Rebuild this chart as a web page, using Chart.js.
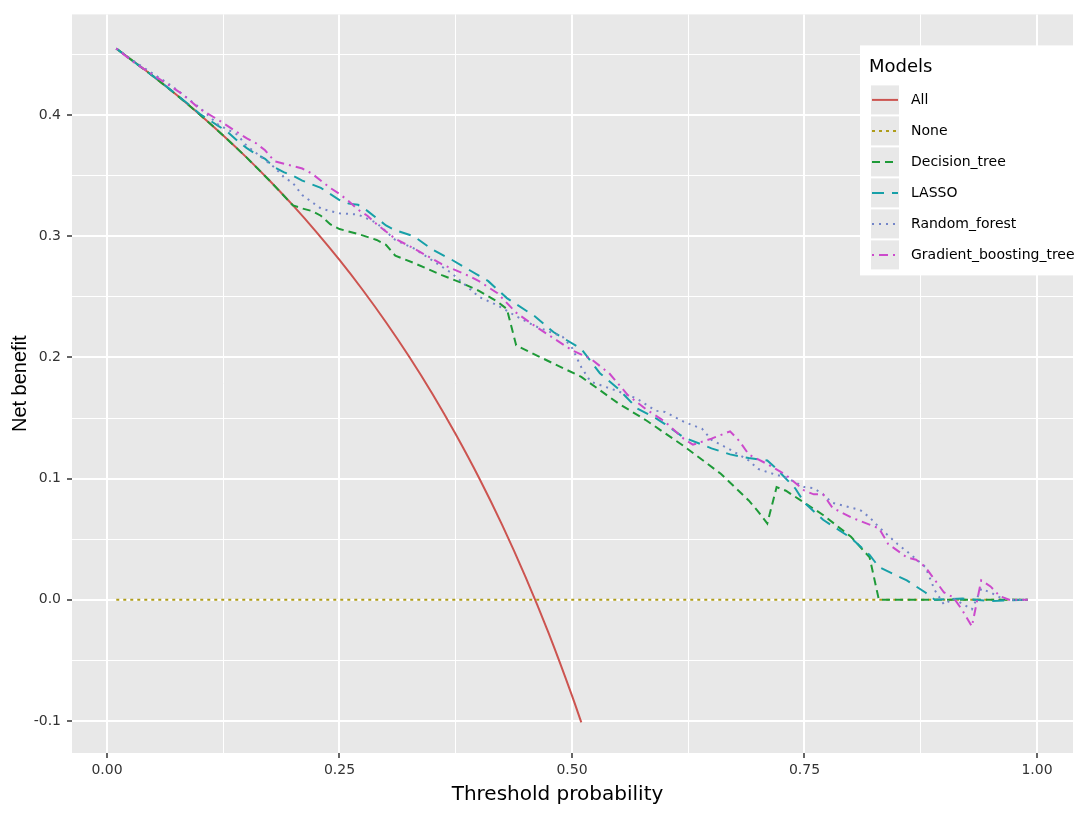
<!DOCTYPE html>
<html>
<head>
<meta charset="utf-8">
<title>Decision curves</title>
<script src="https://cdn.jsdelivr.net/npm/chart.js@4.4.1/dist/chart.umd.min.js"></script>
<style>
  html, body { margin: 0; padding: 0; background: #fff; }
  #chart { display: block; }
</style>
</head>
<body>
<canvas id="chart" width="1084" height="814"></canvas>
<script>
// [threshold probability, net benefit] pairs
const ALL = [[0.01, 0.455], [0.05, 0.432], [0.075, 0.4167], [0.10, 0.4004], [0.125, 0.3833], [0.15, 0.3652],
    [0.175, 0.3459], [0.20, 0.3255], [0.225, 0.3037], [0.25, 0.2805], [0.275, 0.2557], [0.30, 0.2291],
    [0.325, 0.2006], [0.35, 0.1699], [0.375, 0.1366], [0.40, 0.1007], [0.425, 0.0616], [0.45, 0.0189],
    [0.475, -0.0278], [0.50, -0.0792], [0.51, -0.1012]];

const NONE = [[0.01, 0], [0.99, 0]];

const DECISION_TREE = [[0.01, 0.455], [0.05, 0.432], [0.075, 0.4167], [0.10, 0.4004], [0.125, 0.3833],
    [0.15, 0.3652], [0.175, 0.3459], [0.20, 0.3255], [0.21, 0.323], [0.22, 0.321], [0.23, 0.317], [0.24, 0.310],
    [0.25, 0.306], [0.27, 0.302], [0.29, 0.297], [0.30, 0.293], [0.31, 0.284], [0.33, 0.278], [0.36, 0.268],
    [0.38, 0.262], [0.40, 0.255], [0.42, 0.246], [0.43, 0.240], [0.44, 0.210], [0.48, 0.195], [0.51, 0.184],
    [0.53, 0.173], [0.55, 0.162], [0.58, 0.148], [0.62, 0.127], [0.66, 0.104], [0.69, 0.082], [0.70, 0.073],
    [0.71, 0.063], [0.72, 0.093], [0.73, 0.090], [0.77, 0.070], [0.80, 0.052], [0.82, 0.035], [0.83, 0],
    [0.99, 0]];

const LASSO = [[0.01, 0.455], [0.05, 0.432], [0.075, 0.417], [0.10, 0.401], [0.12, 0.391], [0.13, 0.386],
    [0.14, 0.379], [0.15, 0.373], [0.16, 0.368], [0.17, 0.364], [0.18, 0.357], [0.19, 0.353], [0.20, 0.350],
    [0.21, 0.346], [0.23, 0.340], [0.25, 0.330], [0.26, 0.327], [0.27, 0.326], [0.28, 0.321], [0.29, 0.315],
    [0.30, 0.309], [0.31, 0.305], [0.33, 0.300], [0.35, 0.289], [0.37, 0.281], [0.39, 0.272], [0.41, 0.263],
    [0.43, 0.249], [0.46, 0.234], [0.48, 0.221], [0.51, 0.207], [0.53, 0.187], [0.55, 0.174], [0.57, 0.158],
    [0.59, 0.150], [0.60, 0.145], [0.62, 0.134], [0.64, 0.128], [0.65, 0.125], [0.67, 0.120], [0.69, 0.117],
    [0.71, 0.115], [0.72, 0.108], [0.74, 0.092], [0.75, 0.080], [0.77, 0.066], [0.80, 0.051], [0.82, 0.037],
    [0.83, 0.027], [0.86, 0.016], [0.88, 0.006], [0.89, 0], [0.92, 0.001], [0.95, -0.001], [0.99, 0]];

const RANDOM_FOREST = [[0.01, 0.455], [0.03, 0.444], [0.05, 0.434], [0.07, 0.424], [0.10, 0.406], [0.11, 0.399],
    [0.12, 0.392], [0.14, 0.384], [0.15, 0.375], [0.16, 0.369], [0.18, 0.357], [0.19, 0.349], [0.20, 0.344],
    [0.21, 0.334], [0.23, 0.323], [0.25, 0.319], [0.27, 0.318], [0.29, 0.311], [0.31, 0.297], [0.33, 0.290],
    [0.34, 0.285], [0.37, 0.270], [0.40, 0.250], [0.42, 0.243], [0.44, 0.234], [0.46, 0.226], [0.49, 0.217],
    [0.50, 0.208], [0.51, 0.192], [0.52, 0.180], [0.55, 0.172], [0.57, 0.166], [0.59, 0.156], [0.60, 0.155],
    [0.62, 0.147], [0.64, 0.141], [0.65, 0.132], [0.67, 0.124], [0.69, 0.115], [0.70, 0.108], [0.72, 0.103],
    [0.73, 0.101], [0.75, 0.093], [0.76, 0.092], [0.77, 0.087], [0.78, 0.080], [0.81, 0.074], [0.82, 0.068],
    [0.83, 0.060], [0.85, 0.046], [0.86, 0.040], [0.88, 0.027], [0.89, 0.008], [0.90, -0.004], [0.91, 0.001],
    [0.93, -0.008], [0.94, 0.009], [0.95, 0.006], [0.96, 0.002], [0.97, 0], [0.99, 0]];

const GRADIENT_BOOSTING = [[0.01, 0.455], [0.03, 0.443], [0.05, 0.433], [0.08, 0.418], [0.10, 0.405],
    [0.12, 0.396], [0.13, 0.391], [0.15, 0.381], [0.16, 0.377], [0.17, 0.371], [0.18, 0.362], [0.20, 0.358],
    [0.21, 0.356], [0.22, 0.352], [0.24, 0.340], [0.25, 0.335], [0.26, 0.329], [0.27, 0.322], [0.28, 0.317],
    [0.29, 0.310], [0.30, 0.304], [0.31, 0.298], [0.33, 0.290], [0.36, 0.277], [0.39, 0.267], [0.40, 0.263],
    [0.42, 0.253], [0.44, 0.237], [0.46, 0.226], [0.48, 0.216], [0.50, 0.206], [0.52, 0.199], [0.54, 0.187],
    [0.56, 0.169], [0.58, 0.157], [0.60, 0.147], [0.62, 0.133], [0.63, 0.128], [0.65, 0.133], [0.67, 0.139],
    [0.68, 0.131], [0.69, 0.120], [0.71, 0.112], [0.73, 0.103], [0.75, 0.090], [0.76, 0.087], [0.77, 0.087],
    [0.78, 0.076], [0.80, 0.068], [0.81, 0.065], [0.83, 0.059], [0.84, 0.046], [0.86, 0.035], [0.87, 0.033],
    [0.88, 0.027], [0.90, 0.006], [0.91, 0.002], [0.92, -0.009], [0.93, -0.022], [0.94, 0.016], [0.95, 0.011],
    [0.96, 0.003], [0.97, 0], [0.99, 0]];

const SERIES_NAMES = ['All', 'None', 'Decision_tree', 'LASSO', 'Random_forest', 'Gradient_boosting_tree'];
const SERIES_DATA = [ALL, NONE, DECISION_TREE, LASSO, RANDOM_FOREST, GRADIENT_BOOSTING];

const X_TICKS = [0, 0.25, 0.5, 0.75, 1];
const X_TICK_LABELS = ['0.00', '0.25', '0.50', '0.75', '1.00'];
const X_MINOR = [0.125, 0.375, 0.625, 0.875];
const Y_TICKS = [-0.1, 0, 0.1, 0.2, 0.3, 0.4];
const Y_TICK_LABELS = ['-0.1', '0.0', '0.1', '0.2', '0.3', '0.4'];
const Y_MINOR = [-0.05, 0.05, 0.15, 0.25, 0.35, 0.45];

const X_TITLE = 'Threshold probability';
const Y_TITLE = 'Net benefit';
const LEGEND_TITLE = 'Models';

// line styles in the same order as SERIES_NAMES (ggplot linetypes)
const STYLES = [
    {color: '#CC5450', dash: [], smooth: true},
    {color: '#AE9C1A', dash: [3, 4]},
    {color: '#1E9A38', dash: [8, 5]},
    {color: '#17A0A8', dash: [12, 8]},
    {color: '#7385C8', dash: [2, 5]},
    {color: '#CC4ACC', dash: [2, 5, 9, 5]}
];

const PANEL_BG = '#E8E8E8';
const FONT = '"DejaVu Sans", sans-serif';
const TICK_COLOR = '#333333';

function makeDataset(i) {
    let style = STYLES[i];
    return {
        label: SERIES_NAMES[i],
        data: SERIES_DATA[i].map(function (p) { return {x: p[0], y: p[1]}; }),
        borderColor: style.color,
        borderWidth: 2,
        borderDash: style.dash,
        borderCapStyle: 'butt',
        pointRadius: 0,
        fill: false,
        tension: 0,
        cubicInterpolationMode: style.smooth ? 'monotone' : 'default',
        order: SERIES_NAMES.length - i
    };
}

function tickLabel(value, ticks, labels) {
    let idx = ticks.indexOf(value);
    return idx < 0 ? '' : labels[idx];
}

function gridFor(major) {
    return {
        color: '#FFFFFF',
        lineWidth: function (ctx) { return ctx.tick && major.indexOf(ctx.tick.value) >= 0 ? 2 : 1; },
        tickColor: function (ctx) { return ctx.tick && major.indexOf(ctx.tick.value) >= 0 ? TICK_COLOR : 'rgba(0,0,0,0)'; },
        tickWidth: 1.5,
        tickLength: 5,
        drawTicks: true
    };
}

//grey ggplot panel behind the grid
const panelBackground = {
    id: 'panelBackground',
    beforeDraw: function (chart) {
        let a = chart.chartArea;
        let ctx = chart.ctx;
        ctx.save();
        ctx.fillStyle = PANEL_BG;
        ctx.fillRect(a.left, a.top, a.right - a.left, a.bottom - a.top);
        ctx.restore();
    }
};

//legend box inside the panel (top right) plus the x axis title, which sits a bit left of the panel centre
const modelsLegend = {
    id: 'modelsLegend',
    afterDraw: function (chart) {
        let a = chart.chartArea;
        let ctx = chart.ctx;
        let left = a.right - 213;
        let top = a.top + 31;
        ctx.save();
        ctx.fillStyle = '#FFFFFF';
        ctx.fillRect(left, top, 215, 230);

        ctx.fillStyle = '#000000';
        ctx.font = '18px ' + FONT;
        ctx.textBaseline = 'alphabetic';
        ctx.textAlign = 'left';
        ctx.fillText(LEGEND_TITLE, left + 9, top + 27);

        chart.data.datasets.forEach(function (ds, i) {
            let ky = top + 40 + i * 31;
            ctx.fillStyle = PANEL_BG;
            ctx.fillRect(left + 11, ky, 28, 29);
            ctx.strokeStyle = ds.borderColor;
            ctx.lineWidth = 2;
            ctx.lineCap = 'butt';
            ctx.setLineDash(ds.borderDash);
            ctx.beginPath();
            ctx.moveTo(left + 12, ky + 14.5);
            ctx.lineTo(left + 38, ky + 14.5);
            ctx.stroke();
            ctx.setLineDash([]);
            ctx.fillStyle = '#000000';
            ctx.font = '14px ' + FONT;
            ctx.textBaseline = 'middle';
            ctx.fillText(ds.label, left + 51, ky + 15);
        });

        ctx.font = '20px ' + FONT;
        ctx.textAlign = 'center';
        ctx.textBaseline = 'middle';
        ctx.fillStyle = '#000000';
        ctx.fillText(X_TITLE, (a.left + a.right) / 2 - 15, a.bottom + 42);
        ctx.restore();
    }
};

new Chart(document.getElementById('chart'), {
    type: 'line',
    data: {
        datasets: SERIES_NAMES.map(function (n, i) { return makeDataset(i); })
    },
    plugins: [panelBackground, modelsLegend],
    options: {
        responsive: false,
        animation: false,
        events: [],
        layout: {padding: {top: 11, right: 11, left: 0, bottom: 0}},
        plugins: {
            legend: {display: false},
            tooltip: {enabled: false}
        },
        scales: {
            x: {
                type: 'linear',
                min: -0.0376,
                max: 1.0387,
                afterBuildTicks: function (scale) {
                    scale.ticks = X_TICKS.concat(X_MINOR).sort(function (a, b) { return a - b; })
                        .map(function (v) { return {value: v}; });
                },
                afterFit: function (scale) { scale.height = 61; },
                ticks: {
                    autoSkip: false,
                    maxRotation: 0,
                    padding: 4,
                    color: TICK_COLOR,
                    font: {family: FONT, size: 14},
                    callback: function (v) { return tickLabel(v, X_TICKS, X_TICK_LABELS); }
                },
                grid: gridFor(X_TICKS),
                border: {display: false}
            },
            y: {
                type: 'linear',
                min: -0.1265,
                max: 0.4832,
                afterBuildTicks: function (scale) {
                    scale.ticks = Y_TICKS.concat(Y_MINOR).sort(function (a, b) { return a - b; })
                        .map(function (v) { return {value: v}; });
                },
                afterFit: function (scale) { scale.width = 72; },
                ticks: {
                    autoSkip: false,
                    padding: 6,
                    color: TICK_COLOR,
                    font: {family: FONT, size: 14},
                    callback: function (v) { return tickLabel(v, Y_TICKS, Y_TICK_LABELS); }
                },
                grid: gridFor(Y_TICKS),
                border: {display: false},
                title: {
                    display: true,
                    text: Y_TITLE,
                    color: '#000000',
                    font: {family: '"Liberation Sans", Arial, sans-serif', size: 20},
                    padding: {top: 8, bottom: 0}
                }
            }
        }
    }
});
</script>
</body>
</html>
